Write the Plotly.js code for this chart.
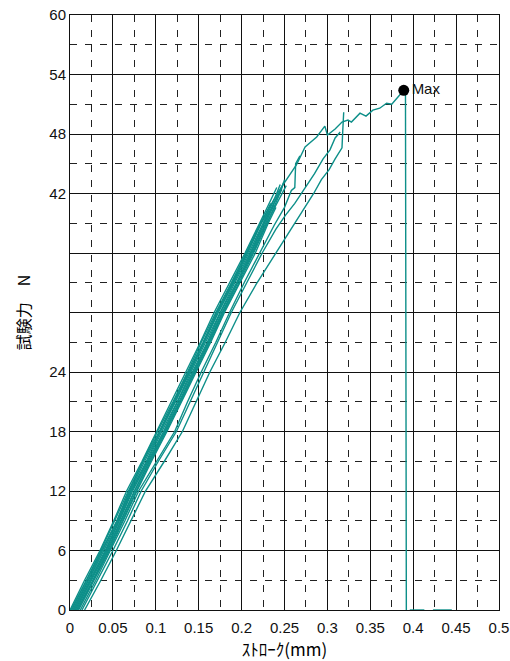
<!DOCTYPE html>
<html><head><meta charset="utf-8">
<script src="https://cdn.plot.ly/plotly-3.0.1.min.js"></script>
<style>html,body{margin:0;padding:0;background:#fff;}#chart{width:510px;height:661px;}</style>
</head><body><div id="chart"></div>
<script>
const b1x = [0.000,0.017,0.035,0.051,0.066,0.084,0.101,0.118,0.135,0.152,0.168,0.186,0.204,0.221,0.236,0.241];
const b1y = [0,3,6,9,12,15,18,21,24,27,30,33,36,39,41.8,42.6];
const b2x = [0.002,0.020,0.037,0.054,0.069,0.086,0.104,0.121,0.138,0.155,0.171,0.189,0.207,0.223,0.232];
const b2y = [0,3.1,6,8.9,12,15.1,18,21,24.1,27,30,33,36,39,40.3];
const b3x = [0.004,0.022,0.040,0.056,0.071,0.089,0.106,0.123,0.140,0.157,0.173,0.191,0.209,0.225,0.239,0.245];
const b3y = [0,3,6.1,9,12,15,18.1,21,24,27.1,30,33,36.1,39,41.6,42.9];
const b4x = [0.006,0.024,0.042,0.058,0.073,0.091,0.109,0.126,0.143,0.160,0.176,0.194,0.211,0.227,0.242,0.249];
const b4y = [0,3,6,9.1,12,15,18,21.1,24,27,30.1,33,36,39.1,41.7,43.1];
const b5x = [0.008,0.026,0.044,0.060,0.076,0.093,0.111,0.128,0.145,0.162,0.178,0.196,0.213,0.229,0.244,0.252];
const b5y = [0,2.9,6,9,12.1,15,18,21,24,27,30,33.1,36,39,41.5,42.8];
const b6x = [0.010,0.028,0.046,0.062,0.078,0.095,0.113,0.130,0.147,0.164,0.180,0.198,0.216,0.231,0.240];
const b6y = [0,3,6,9,12,15,18,21,24,27,30,33,36,39,40.6];
const b7x = [0.001,0.019,0.036,0.052,0.068,0.085,0.102,0.120,0.137,0.153,0.170,0.188,0.205,0.222,0.234];
const b7y = [0,3,6,9,12,15,18,21,24,27,30,33,36,39,41.0];
const b8x = [0.005,0.023,0.041,0.057,0.072,0.090,0.107,0.125,0.141,0.158,0.175,0.192,0.210,0.226,0.243,0.247];
const b8y = [0,3,6,9,12,15,18,21,24,27,30,33,36,39,42.0,42.4];
const b9x = [0.007,0.025,0.043,0.059,0.075,0.092,0.110,0.127,0.144,0.161,0.177,0.195,0.212,0.228,0.238];
const b9y = [0,3,6,9,12,15,18,21,24,27,30,33,36,39,40.9];
const b10x = [0.009,0.027,0.045,0.061,0.077,0.094,0.112,0.129,0.146,0.163,0.179,0.197,0.214,0.230,0.246,0.250];
const b10y = [0,3,6,9,12,15,18,21,24,27,30,33,36,39,42.3,43.4];
const s1x = [0.012,0.030,0.047,0.064,0.080,0.101,0.122,0.137,0.153,0.170,0.186,0.203,0.221,0.238,0.250,0.258,0.262,0.263,0.268];
const s1y = [0,3,6,9,12,15,18,21,24,27,30,33,36,38.8,40.6,42.3,42.6,45.0,45.8];
const s2x = [0.014,0.032,0.050,0.067,0.083,0.103,0.124,0.140,0.156,0.172,0.188,0.206,0.224,0.240,0.251,0.262,0.274,0.285,0.295,0.303,0.309,0.315];
const s2y = [0,3,6,9,12,15,18,21,24,27,30,33,36,38.4,39.8,41.0,42.5,44.0,45.5,46.4,47.6,48.2];
const s3x = [0.017,0.036,0.054,0.071,0.088,0.110,0.131,0.147,0.163,0.181,0.198,0.218,0.240,0.252,0.263,0.274,0.284,0.293,0.302,0.309,0.317,0.318,0.319];
const s3y = [0,3,6,9,12,15,18,21,24,27,30,33,36,37.5,39.0,40.6,42.0,43.4,44.4,45.5,46.6,48.5,50.2];
const mx = [0.003,0.021,0.038,0.055,0.070,0.087,0.105,0.122,0.139,0.156,0.172,0.190,0.206,0.222,0.243,0.264,0.274,0.2875,0.297,0.300,0.309,0.317,0.324,0.328,0.338,0.345,0.353,0.361,0.369,0.375,0.381,0.389,0.391,0.392,null,0.396,0.413,null,0.423,0.445];
const my = [0,3,6,9,12,15,18,21,24,27,30,33,36,39,42.2,44.9,46.7,47.7,48.8,47.9,48.5,49.2,49.4,49.2,50.1,49.8,50.4,50.6,51.1,51.0,51.6,52.4,52.0,0,null,0,0,null,0,0];
const maxX = [0.389];
const maxY = [52.4];
const maxLabel = ['Max'];
const yTickVals = [0,6,12,18,24,30,36,42,48,54,60];
const yTickText = ['0','6','12','18','24','','','42','48','54','60'];
const xTickVals = [0,0.05,0.1,0.15,0.2,0.25,0.3,0.35,0.4,0.45,0.5];
const xTickText = ['0','0.05','0.1','0.15','0.2','0.25','0.3','0.35','0.4','0.45','0.5'];

const teal = '#0d8f89';
const curves = [[b1x,b1y],[b2x,b2y],[b3x,b3y],[b4x,b4y],[b5x,b5y],[b6x,b6y],[b7x,b7y],[b8x,b8y],[b9x,b9y],[b10x,b10y],[s1x,s1y],[s2x,s2y],[s3x,s3y],[mx,my]];
const data = curves.map(c => ({x:c[0], y:c[1], type:'scatter', mode:'lines',
  line:{color:teal, width:1.4}, connectgaps:false, hoverinfo:'skip', showlegend:false}));
data.push({x:maxX, y:maxY, text:maxLabel, type:'scatter', mode:'markers+text',
  marker:{color:'#000', size:11}, textposition:'middle right',
  textfont:{family:'Liberation Sans, Arial, sans-serif', size:15, color:'#111'}, showlegend:false, cliponaxis:false});

const gridDash = '7px,8px';
const layout = {
  width:510, height:661,
  margin:{l:70, r:11, t:15, b:51},
  paper_bgcolor:'#fff', plot_bgcolor:'#fff',
  font:{family:'Liberation Sans, Arial, sans-serif', size:15, color:'#111'},
  showlegend:false,
  xaxis:{range:[0,0.5], tickvals:xTickVals, ticktext:xTickText, ticks:'', showgrid:true,
    gridcolor:'#111', gridwidth:1, zeroline:false, showline:true, mirror:true, linecolor:'#111', linewidth:1,
    layer:'below traces', ticklabelstandoff:4,
    minor:{dtick:0.025, tick0:0, showgrid:true, gridcolor:'#222', gridwidth:1, griddash:gridDash},
    title:{text:'ｽﾄﾛｰｸ(mm)', font:{family:'Noto Sans CJK JP, sans-serif', size:17, color:'#000'}, standoff:8},
    tickfont:{size:15}},
  yaxis:{range:[0,60], tickvals:yTickVals, ticktext:yTickText, ticks:'', showgrid:true,
    gridcolor:'#111', gridwidth:1, zeroline:false, showline:true, mirror:true, linecolor:'#111', linewidth:1,
    layer:'below traces',
    minor:{dtick:3, tick0:0, showgrid:true, gridcolor:'#222', gridwidth:1, griddash:gridDash},
    title:{text:'試験力　N', font:{family:'Noto Sans CJK JP, sans-serif', size:16, color:'#000'}, standoff:14},
    tickfont:{size:15}}
};
Plotly.newPlot('chart', data, layout, {displayModeBar:false, staticPlot:true});
</script></body></html>
